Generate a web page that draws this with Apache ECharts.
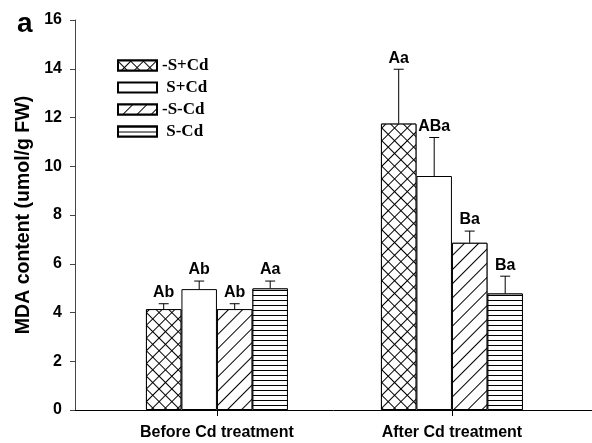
<!DOCTYPE html>
<html>
<head>
<meta charset="utf-8">
<script src="https://cdn.jsdelivr.net/npm/echarts@6/dist/echarts.min.js"></script>
<style>html,body{margin:0;padding:0;background:#fff}#c{width:592px;height:443px}</style>
</head>
<body>
<div id="c"></div>
<script>
// ---- data ----
const categories = ['Before Cd treatment', 'After Cd treatment'];
const seriesNames = ['-S+Cd', ' S+Cd', '-S-Cd', ' S-Cd'];
const meanNegSPlusCd = [4.14, 11.75];
const meanSPlusCd = [4.96, 9.60];
const meanNegSNegCd = [4.14, 6.86];
const meanSNegCd = [4.99, 4.78];
const errNegSPlusCd = [0.22, 2.23];
const errSPlusCd = [0.33, 1.58];
const errNegSNegCd = [0.22, 0.48];
const errSNegCd = [0.30, 0.71];
const lblNegSPlusCd = ['Ab', 'Aa'];
const lblSPlusCd = ['Ab', 'ABa'];
const lblNegSNegCd = ['Ab', 'Ba'];
const lblSNegCd = ['Aa', 'Ba'];
const yTicks = [0, 2, 4, 6, 8, 10, 12, 14, 16];

const means = [meanNegSPlusCd, meanSPlusCd, meanNegSNegCd, meanSNegCd];
const errs = [errNegSPlusCd, errSPlusCd, errNegSNegCd, errSNegCd];
const lbls = [lblNegSPlusCd, lblSPlusCd, lblNegSNegCd, lblSNegCd];

const BAR_W = 35.5;
const decals = [
  {symbol: 'rect', symbolSize: 1, dashArrayX: [[1, 0], [1, 8]], dashArrayY: [1, 0, 8, 0], rotation: Math.PI / 4, color: '#000', backgroundColor: '#fff'},
  null,
  {symbol: 'rect', symbolSize: 1, dashArrayX: [1, 0], dashArrayY: [1, 9], rotation: -Math.PI / 4, color: '#000', backgroundColor: '#fff'},
  {symbol: 'rect', symbolSize: 1, dashArrayX: [1, 0], dashArrayY: [1, 4], rotation: 0, color: '#000', backgroundColor: '#fff'}
];

const series = [];
seriesNames.forEach((nm, si) => {
  const style = {color: '#fff', borderColor: '#000', borderWidth: 1};
  if (decals[si]) style.decal = decals[si];
  series.push({
    type: 'bar', name: nm, barWidth: BAR_W, barGap: '0%',
    itemStyle: style,
    data: categories.map((c, ci) => [ci, means[si][ci]]),
    z: 2
  });
});
seriesNames.forEach((nm, si) => {
  const off = (si - 1.5) * BAR_W;
  series.push({
    type: 'custom', name: nm + '_err', z: 5, silent: true,
    data: categories.map((c, ci) => [ci, means[si][ci], means[si][ci] + errs[si][ci], ci]),
    encode: {x: 0, y: [1, 2]},
    renderItem: function (params, api) {
      const ci = api.value(3);
      const p0 = api.coord([api.value(0), api.value(1)]);
      const p1 = api.coord([api.value(0), api.value(2)]);
      const x = p0[0] + off;
      return {
        type: 'group',
        children: [
          {type: 'line', shape: {x1: x, y1: p0[1], x2: x, y2: p1[1]}, style: {stroke: '#000', lineWidth: 1}},
          {type: 'line', shape: {x1: x - 5, y1: p1[1], x2: x + 5, y2: p1[1]}, style: {stroke: '#000', lineWidth: 1}},
          {type: 'text', x: x, y: p1[1] - 3, style: {text: lbls[si][ci], textAlign: 'center', textVerticalAlign: 'bottom', font: 'bold 16px "Liberation Sans", Arial, sans-serif', fill: '#000'}}
        ]
      };
    }
  });
});

const chart = echarts.init(document.getElementById('c'), null, {renderer: 'canvas'});
chart.setOption({
  animation: false,
  backgroundColor: '#fff',
  graphic: [{type: 'text', x: 17, y: 24, style: {text: 'a', textVerticalAlign: 'middle', font: 'bold 28px "Liberation Sans", Arial, sans-serif', fill: '#000'}}],
  grid: {left: 75, right: 0, top: 20, bottom: 33},
  legend: {
    data: seriesNames, orient: 'vertical', left: 112, top: 52,
    itemWidth: 39, itemHeight: 10, itemGap: 5, itemTextGap: 10, icon: 'rect',
    textStyle: {fontFamily: 'Liberation Serif', fontWeight: 'bold', fontSize: 17, color: '#000', lineHeight: 17}
  },
  xAxis: {
    type: 'value', min: -0.604, max: 1.596,
    splitLine: {show: false},
    axisLine: {show: true, onZero: false, lineStyle: {color: '#000', width: 1}},
    axisTick: {show: true, customValues: [0, 1], length: 6, lineStyle: {color: '#000'}},
    axisLabel: {customValues: [0, 1], formatter: v => categories[Math.round(v)] || '', margin: 15,
      fontFamily: 'Liberation Sans', fontWeight: 'bold', fontSize: 16, color: '#000'}
  },
  yAxis: {
    type: 'value', min: 0, max: 16, interval: 2,
    name: 'MDA content (umol/g FW)', nameLocation: 'middle', nameGap: 35,
    nameTextStyle: {fontFamily: 'Liberation Sans', fontWeight: 'bold', fontSize: 19.5, color: '#000'},
    splitLine: {show: false},
    axisLine: {show: true, onZero: false, lineStyle: {color: '#444', width: 1}},
    axisTick: {show: true, length: 5, lineStyle: {color: '#444'}},
    axisLabel: {margin: 13, fontFamily: 'Liberation Sans', fontWeight: 'bold', fontSize: 16, color: '#000',
      customValues: yTicks}
  },
  series: series
});
</script>
</body>
</html>
